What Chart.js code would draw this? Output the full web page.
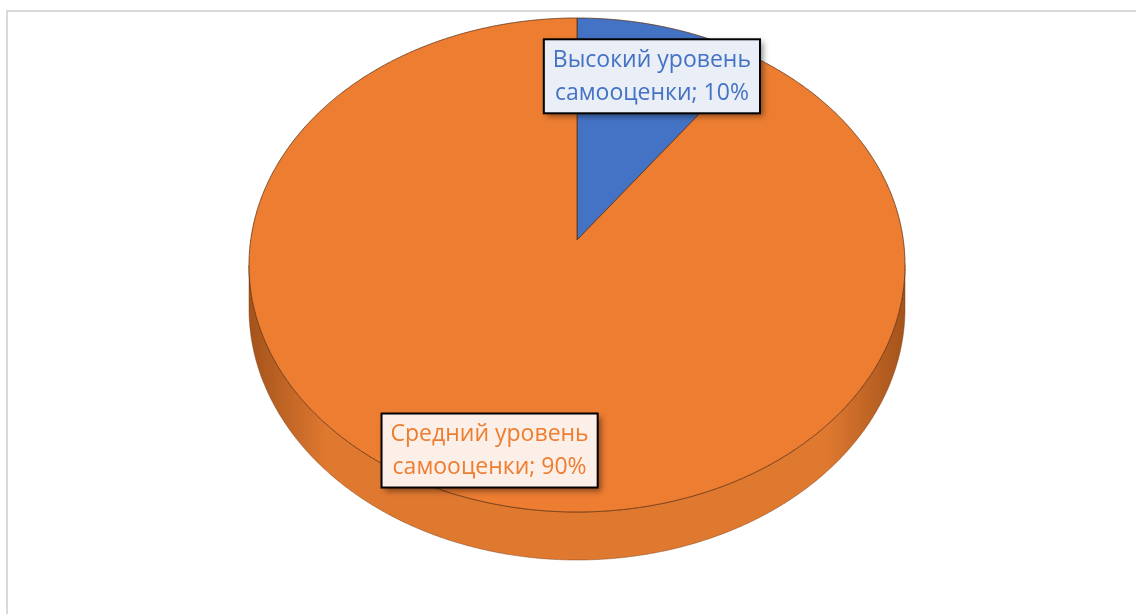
<!DOCTYPE html>
<html>
<head>
<meta charset="utf-8">
<script src="https://cdn.jsdelivr.net/npm/chart.js@4.4.0/dist/chart.umd.min.js"></script>
<style>
html, body { margin: 0; padding: 0; background: #fff; overflow: hidden; }
#wrap { position: relative; width: 1136px; height: 614px; }
#frame { position: absolute; left: 6px; top: 10px; width: 1150px; height: 630px; border: 2px solid #d9d9d9; box-sizing: border-box; }
#chart { position: absolute; left: 0; top: 0; }
</style>
</head>
<body>
<div id="wrap"><div id="frame"></div><canvas id="chart" width="1136" height="614"></canvas></div>
<script>
// data
const categories = ['Высокий уровень самооценки', 'Средний уровень самооценки'];
const shares = [10, 90];
const sliceColors = ['#4472C4', '#ED7D31'];
const sideColors = [['#2c4f8c', '#3a62a8'], ['#a4531b', '#e07930']];
const boxFills = ['#e9eef7', '#fcefe7'];

// how the tilted disc sits on the page
const view = { cx: 577, cy: 240, halfWidth: 328, far: 222, near: 272, depth: 48 };

const tilt = {
  id: 'tilt',
  beforeDatasetsDraw(chart) {
    const ctx = chart.ctx;
    const meta = chart.getDatasetMeta(0);
    const g = (view.near - view.far) / (view.near + view.far);
    const B = view.far * (1 + g);
    const A = view.halfWidth * Math.sqrt(1 - g * g);
    const D = view.depth * (1 - g);
    const proj = (ang, f, drop) => {
      const u = f * Math.cos(ang), v = f * Math.sin(ang);
      const s = 1 / (1 - g * v);
      return [view.cx + A * u * s, view.cy + (B * v + (drop || 0)) * s];
    };
    chart.$proj = proj;
    const a0 = Math.asin(g), a1 = Math.PI - Math.asin(g);

    // side wall
    meta.data.forEach((el, i) => {
      const a = Math.max(el.startAngle, a0), b = Math.min(el.endAngle, a1);
      if (a >= b) return;
      const grad = ctx.createLinearGradient(view.cx - view.halfWidth, 0, view.cx + view.halfWidth, 0);
      grad.addColorStop(0, sideColors[i][0]);
      grad.addColorStop(0.12, sideColors[i][1]);
      grad.addColorStop(0.5, sideColors[i][1]);
      grad.addColorStop(0.88, sideColors[i][1]);
      grad.addColorStop(1, sideColors[i][0]);
      ctx.beginPath();
      for (let t = a; t <= b; t += 0.005) ctx.lineTo(...proj(t, 1));
      ctx.lineTo(...proj(b, 1));
      for (let t = b; t >= a; t -= 0.005) ctx.lineTo(...proj(t, 1, D));
      ctx.lineTo(...proj(a, 1, D));
      ctx.closePath();
      ctx.fillStyle = grad;
      ctx.fill();
      ctx.strokeStyle = 'rgba(120,60,20,0.45)';
      ctx.lineWidth = 1;
      ctx.stroke();
    });

    // top faces
    meta.data.forEach((el, i) => {
      ctx.beginPath();
      ctx.moveTo(view.cx, view.cy);
      for (let t = el.startAngle; t <= el.endAngle; t += 0.005) ctx.lineTo(...proj(t, 1));
      ctx.lineTo(...proj(el.endAngle, 1));
      ctx.closePath();
      ctx.fillStyle = sliceColors[i];
      ctx.fill();
      ctx.strokeStyle = 'rgba(90,45,15,0.75)';
      ctx.lineWidth = 1;
      ctx.stroke();
    });
    return false;
  },
  afterDraw(chart) {
    const ctx = chart.ctx;
    const meta = chart.getDatasetMeta(0);
    const total = shares.reduce((s, v) => s + v, 0);
    ctx.font = '23px "Open Sans"';
    ctx.textAlign = 'center';
    ctx.textBaseline = 'middle';
    meta.data.forEach((el, i) => {
      const name = categories[i];
      const cut = name.lastIndexOf(' ');
      const lines = [name.slice(0, cut), name.slice(cut + 1) + '; ' + Math.round(shares[i] / total * 100) + '%'];
      const [x, y0] = chart.$proj((el.startAngle + el.endAngle) / 2, 0.8);
      const y = y0 + 9;
      const w = Math.max(...lines.map(l => ctx.measureText(l).width)) + 18;
      const h = 74;
      ctx.save();
      ctx.shadowColor = 'rgba(0,0,0,0.45)';
      ctx.shadowBlur = 6;
      ctx.shadowOffsetX = 3;
      ctx.shadowOffsetY = 3;
      ctx.fillStyle = boxFills[i];
      ctx.fillRect(x - w / 2, y - h / 2, w, h);
      ctx.restore();
      ctx.strokeStyle = '#000';
      ctx.lineWidth = 2;
      ctx.strokeRect(x - w / 2, y - h / 2, w, h);
      ctx.fillStyle = sliceColors[i];
      ctx.fillText(lines[0], x, y - 16);
      ctx.fillText(lines[1], x, y + 17);
    });
  }
};

new Chart(document.getElementById('chart'), {
  type: 'pie',
  data: {
    labels: categories,
    datasets: [{ data: shares, backgroundColor: sliceColors }]
  },
  options: {
    responsive: false,
    animation: false,
    plugins: { legend: { display: false }, tooltip: { enabled: false } }
  },
  plugins: [tilt]
});
</script>
</body>
</html>
